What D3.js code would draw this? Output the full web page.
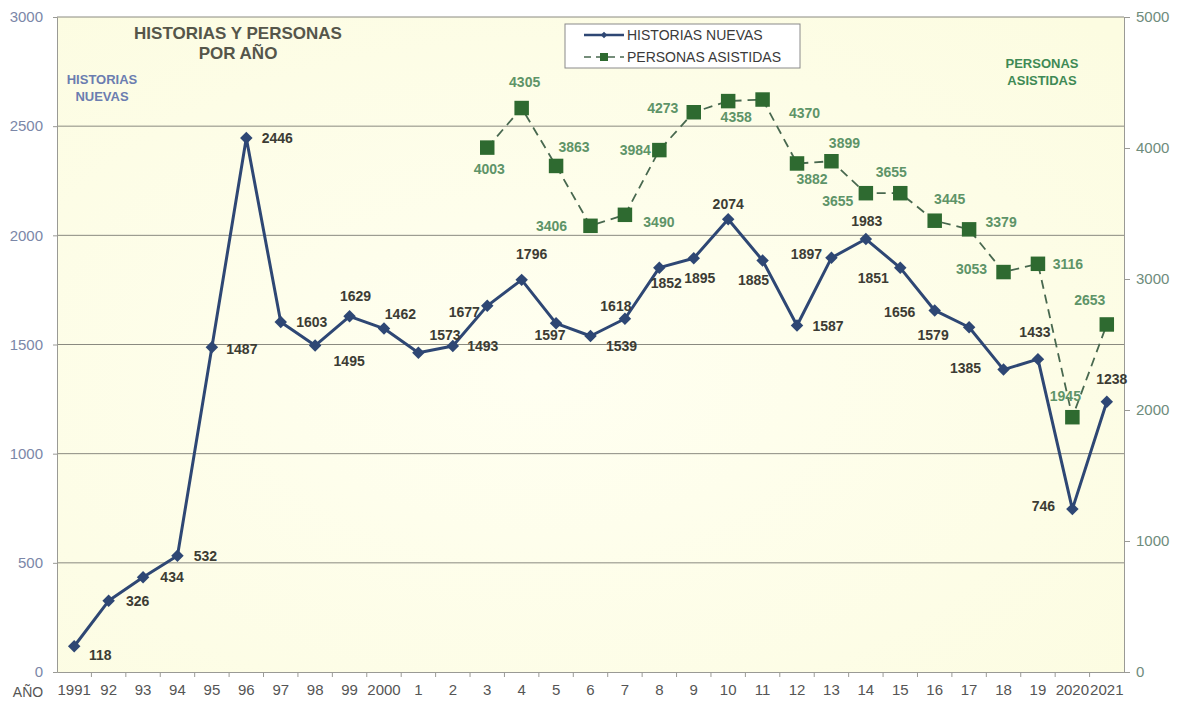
<!DOCTYPE html>
<html>
<head>
<meta charset="utf-8">
<script src="https://cdn.jsdelivr.net/npm/d3@7"></script>
<style>
  body { margin: 0; background: #fff; }
  svg { font-family: "Liberation Sans", Arial, sans-serif; }
</style>
</head>
<body>
<div id="chart"></div>
<script>
// years (tick labels as printed)
var years = ["1991","92","93","94","95","96","97","98","99","2000","1","2","3","4","5","6","7","8","9","10","11","12","13","14","15","16","17","18","19","2020","2021"];

// historias nuevas, 1991-2021
var historias = [118,326,434,532,1487,2446,1603,1495,1629,1573,1462,1493,1677,1796,1597,1539,1618,1852,1895,2074,1885,1587,1897,1983,1851,1656,1579,1385,1433,746,1238];

// personas asistidas, 2003-2021
var personasYears = ["3","4","5","6","7","8","9","10","11","12","13","14","15","16","17","18","19","2020","2021"];
var personas = [4003,4305,3863,3406,3490,3984,4273,4358,4370,3882,3899,3655,3655,3445,3379,3053,3116,1945,2653];

var leftTicks = [0,500,1000,1500,2000,2500,3000];
var rightTicks = [0,1000,2000,3000,4000,5000];

// where each value label sits relative to its point
var histLabelOff = [[26,9],[29,0],[29,0],[28,0],[30,2],[31,0],[31,0],[34,15],[6,-20],[61,6],[-18,-39],[30,0],[-23,6],[10,-26],[-6,12],[31,10],[-9,-13],[7,15],[6,20],[0,-15],[-9,20],[31,0],[-25,-4],[1,-18],[-27,10],[-35,2],[-36,8],[-38,-2],[-3,-27],[-29,-3],[5,-23]];
var persLabelOff = [[2,21],[3,-26],[18,-19],[-39,0],[34,7],[-24,0],[-31,-4],[8,16],[42,13],[15,16],[13,-18],[-28,8],[-9,-21],[15,-22],[32,-7],[-32,-3],[30,0],[-7,-21],[-17,-24]];

var W = 1179, H = 704;
var m = {left: 57, right: 1124, top: 17, bottom: 672};

var svg = d3.select("#chart").append("svg")
    .attr("width", W).attr("height", H);

var defs = svg.append("defs");
var grad = defs.append("radialGradient").attr("id", "bg")
    .attr("cx", "45%").attr("cy", "55%").attr("r", "75%");
grad.append("stop").attr("offset", "0%").attr("stop-color", "#fffff1");
grad.append("stop").attr("offset", "100%").attr("stop-color", "#fcfce1");

var x = d3.scaleBand().domain(years).range([m.left, m.right]);
var yL = d3.scaleLinear().domain([0, 3000]).range([m.bottom, m.top]);
var yR = d3.scaleLinear().domain([0, 5000]).range([m.bottom, m.top]);
function cx(d) { return x(d) + x.bandwidth() / 2; }

// plot background
svg.append("rect")
    .attr("x", m.left).attr("y", m.top)
    .attr("width", m.right - m.left).attr("height", m.bottom - m.top)
    .attr("fill", "url(#bg)");

// gridlines
svg.append("g").selectAll("line")
  .data(leftTicks.filter(function(t) { return t > 0; }))
  .enter().append("line")
    .attr("x1", m.left).attr("x2", m.right)
    .attr("y1", function(d) { return yL(d); })
    .attr("y2", function(d) { return yL(d); })
    .attr("stroke", "#8a8a80").attr("stroke-width", 1);

// left axis
var gl = svg.append("g")
    .attr("transform", "translate(" + m.left + ",0)")
    .call(d3.axisLeft(yL).tickValues(leftTicks).tickSize(4).tickPadding(10).tickFormat(d3.format("d")));
gl.select(".domain").attr("stroke", "#9a9a95");
gl.selectAll(".tick line").attr("stroke", "#9a9a95");
gl.selectAll("text").attr("fill", "#7b87a8").attr("font-size", "15px")
    .attr("font-family", "Liberation Sans, Arial, sans-serif");

// right axis
var gr = svg.append("g")
    .attr("transform", "translate(" + m.right + ",0)")
    .call(d3.axisRight(yR).tickValues(rightTicks).tickSize(6).tickPadding(6).tickFormat(d3.format("d")));
gr.select(".domain").attr("stroke", "#9a9a95");
gr.selectAll(".tick line").attr("stroke", "#9a9a95");
gr.selectAll("text").attr("fill", "#6e8c7c").attr("font-size", "15px")
    .attr("font-family", "Liberation Sans, Arial, sans-serif");

// bottom axis, ticks at band edges
var gb = svg.append("g")
    .attr("transform", "translate(0," + m.bottom + ")")
    .call(d3.axisBottom(x).tickSize(0).tickPadding(12));
gb.select(".domain").attr("stroke", "#9a9a95");
gb.selectAll("text").attr("fill", "#555555").attr("font-size", "15px")
    .attr("font-family", "Liberation Sans, Arial, sans-serif");
gb.selectAll(".edge")
  .data(years.slice(1))
  .enter().append("line")
    .attr("x1", function(d) { return x(d); })
    .attr("x2", function(d) { return x(d); })
    .attr("y1", 0).attr("y2", 5)
    .attr("stroke", "#9a9a95");

svg.append("text").attr("x", 28).attr("y", 697)
    .attr("text-anchor", "middle").attr("font-size", "14px")
    .attr("fill", "#555555").text("AÑO");

// personas asistidas (right axis)
var lineR = d3.line()
    .x(function(d, i) { return cx(personasYears[i]); })
    .y(function(d) { return yR(d); });
svg.append("path").datum(personas)
    .attr("d", lineR)
    .attr("fill", "none")
    .attr("stroke", "#48684f").attr("stroke-width", 1.8)
    .attr("stroke-dasharray", "9,6");
svg.append("g").selectAll("path")
  .data(personas)
  .enter().append("path")
    .attr("d", d3.symbol(d3.symbolSquare).size(210))
    .attr("transform", function(d, i) { return "translate(" + cx(personasYears[i]) + "," + yR(d) + ")"; })
    .attr("fill", "#2e6a30");

// historias nuevas (left axis)
var lineL = d3.line()
    .x(function(d, i) { return cx(years[i]); })
    .y(function(d) { return yL(d); });
svg.append("path").datum(historias)
    .attr("d", lineL)
    .attr("fill", "none")
    .attr("stroke", "#2e4774").attr("stroke-width", 3)
    .attr("stroke-linejoin", "round");
svg.append("g").selectAll("path")
  .data(historias)
  .enter().append("path")
    .attr("d", d3.symbol(d3.symbolSquare).size(78))
    .attr("transform", function(d, i) { return "translate(" + cx(years[i]) + "," + yL(d) + ") rotate(45)"; })
    .attr("fill", "#2e4774");

// value labels
svg.append("g").selectAll("text")
  .data(historias)
  .enter().append("text")
    .attr("x", function(d, i) { return cx(years[i]) + histLabelOff[i][0]; })
    .attr("y", function(d, i) { return yL(d) + histLabelOff[i][1]; })
    .attr("text-anchor", "middle").attr("dominant-baseline", "central")
    .attr("font-size", "14px").attr("font-weight", "bold")
    .attr("fill", "#3c3c34")
    .text(function(d) { return d; });

svg.append("g").selectAll("text")
  .data(personas)
  .enter().append("text")
    .attr("x", function(d, i) { return cx(personasYears[i]) + persLabelOff[i][0]; })
    .attr("y", function(d, i) { return yR(d) + persLabelOff[i][1]; })
    .attr("text-anchor", "middle").attr("dominant-baseline", "central")
    .attr("font-size", "14px").attr("font-weight", "bold")
    .attr("fill", "#5e9468")
    .text(function(d) { return d; });

// titles
var title = svg.append("text").attr("text-anchor", "middle")
    .attr("font-size", "17px").attr("font-weight", "bold").attr("fill", "#55564a");
title.append("tspan").attr("x", 238).attr("y", 39).text("HISTORIAS Y PERSONAS");
title.append("tspan").attr("x", 238).attr("y", 59).text("POR AÑO");

var tl = svg.append("text").attr("text-anchor", "middle")
    .attr("font-size", "13px").attr("font-weight", "bold").attr("fill", "#6b7db0");
tl.append("tspan").attr("x", 102).attr("y", 84).text("HISTORIAS");
tl.append("tspan").attr("x", 102).attr("y", 101).text("NUEVAS");

var tr = svg.append("text").attr("text-anchor", "middle")
    .attr("font-size", "13px").attr("font-weight", "bold").attr("fill", "#3f8a55");
tr.append("tspan").attr("x", 1042).attr("y", 68).text("PERSONAS");
tr.append("tspan").attr("x", 1042).attr("y", 85).text("ASISTIDAS");

// legend
var lg = svg.append("g");
lg.append("rect").attr("x", 565).attr("y", 24).attr("width", 235).attr("height", 44)
    .attr("fill", "#ffffff").attr("stroke", "#8a8a8a").attr("stroke-width", 1);
lg.append("line").attr("x1", 584).attr("x2", 624).attr("y1", 35).attr("y2", 35)
    .attr("stroke", "#2e4774").attr("stroke-width", 2.5);
lg.append("path").attr("d", d3.symbol(d3.symbolSquare).size(22))
    .attr("transform", "translate(604,35) rotate(45)").attr("fill", "#2e4774");
lg.append("line").attr("x1", 584).attr("x2", 624).attr("y1", 57).attr("y2", 57)
    .attr("stroke", "#48684f").attr("stroke-width", 1.6).attr("stroke-dasharray", "7,5");
lg.append("path").attr("d", d3.symbol(d3.symbolSquare).size(64))
    .attr("transform", "translate(604,57)").attr("fill", "#2e6a30");
lg.append("text").attr("x", 627).attr("y", 35).attr("dominant-baseline", "central")
    .attr("font-size", "14px").attr("fill", "#3a3a3a").text("HISTORIAS NUEVAS");
lg.append("text").attr("x", 627).attr("y", 57).attr("dominant-baseline", "central")
    .attr("font-size", "14px").attr("fill", "#3a3a3a").text("PERSONAS ASISTIDAS");
</script>
</body>
</html>
